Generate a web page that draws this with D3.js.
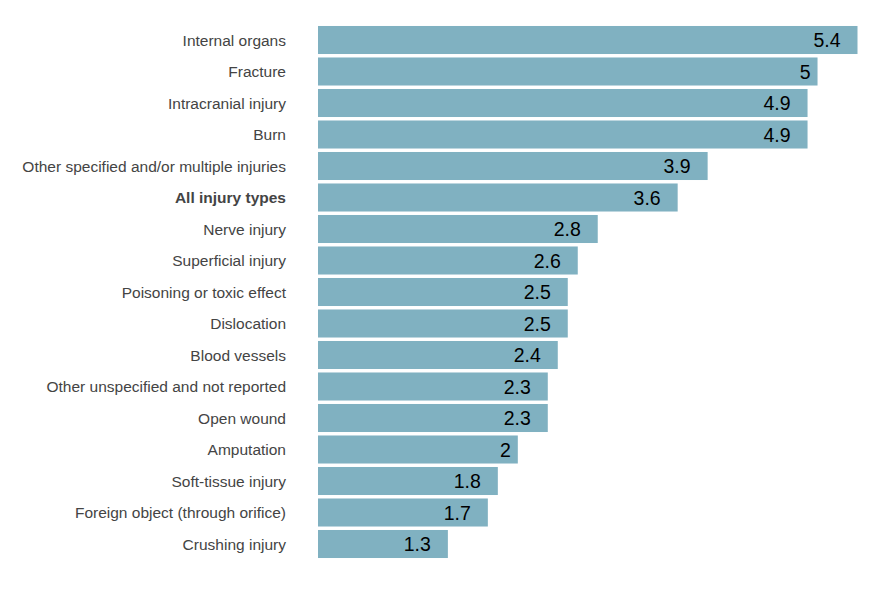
<!DOCTYPE html>
<html>
<head>
<meta charset="utf-8">
<script src="https://cdn.jsdelivr.net/npm/d3@7"></script>
<style>
  body { margin: 0; background: #fff; }
</style>
</head>
<body>
<div id="chart"></div>
<script>
const categories = [
    "Internal organs", "Fracture", "Intracranial injury", "Burn",
    "Other specified and/or multiple injuries", "All injury types",
    "Nerve injury", "Superficial injury", "Poisoning or toxic effect",
    "Dislocation", "Blood vessels", "Other unspecified and not reported",
    "Open wound", "Amputation", "Soft-tissue injury",
    "Foreign object (through orifice)", "Crushing injury"
];
const values = [5.4, 5, 4.9, 4.9, 3.9, 3.6, 2.8, 2.6, 2.5, 2.5, 2.4, 2.3, 2.3, 2, 1.8, 1.7, 1.3];
const highlight = "All injury types";

const data = categories.map((c, i) => ({ name: c, value: values[i] }));

const svg = d3.select("#chart")
    .append("svg")
    .attr("width", 890)
    .attr("height", 600);

const x = d3.scaleLinear()
    .domain([0, 5.4])
    .range([318, 857.5]);

const y = d3.scaleBand()
    .domain(categories)
    .range([24.25, 559.75])
    .paddingInner(0.11)
    .paddingOuter(0.055);

svg.selectAll("rect.bar")
    .data(data)
    .enter()
    .append("rect")
    .attr("class", "bar")
    .attr("x", x(0))
    .attr("y", (d) => y(d.name))
    .attr("width", (d) => x(d.value) - x(0))
    .attr("height", y.bandwidth())
    .attr("fill", "#80b1c1");

// category labels
svg.selectAll("text.cat")
    .data(data)
    .enter()
    .append("text")
    .attr("class", "cat")
    .attr("x", 286)
    .attr("y", (d) => y(d.name) + y.bandwidth() / 2 + 5.5)
    .attr("text-anchor", "end")
    .attr("font-family", "'Liberation Sans', Arial, sans-serif")
    .attr("font-size", 15.5)
    .attr("font-weight", (d) => d.name === highlight ? "bold" : "normal")
    .attr("fill", "#444")
    .text((d) => d.name);

// value labels inside bars
svg.selectAll("text.val")
    .data(data)
    .enter()
    .append("text")
    .attr("class", "val")
    .attr("x", (d) => x(d.value) - (Number.isInteger(d.value) ? 7 : 17))
    .attr("y", (d) => y(d.name) + y.bandwidth() / 2 + 7)
    .attr("text-anchor", "end")
    .attr("font-family", "'Liberation Sans', Arial, sans-serif")
    .attr("font-size", 19.5)
    .attr("fill", "#000")
    .text((d) => d.value);
</script>
</body>
</html>
